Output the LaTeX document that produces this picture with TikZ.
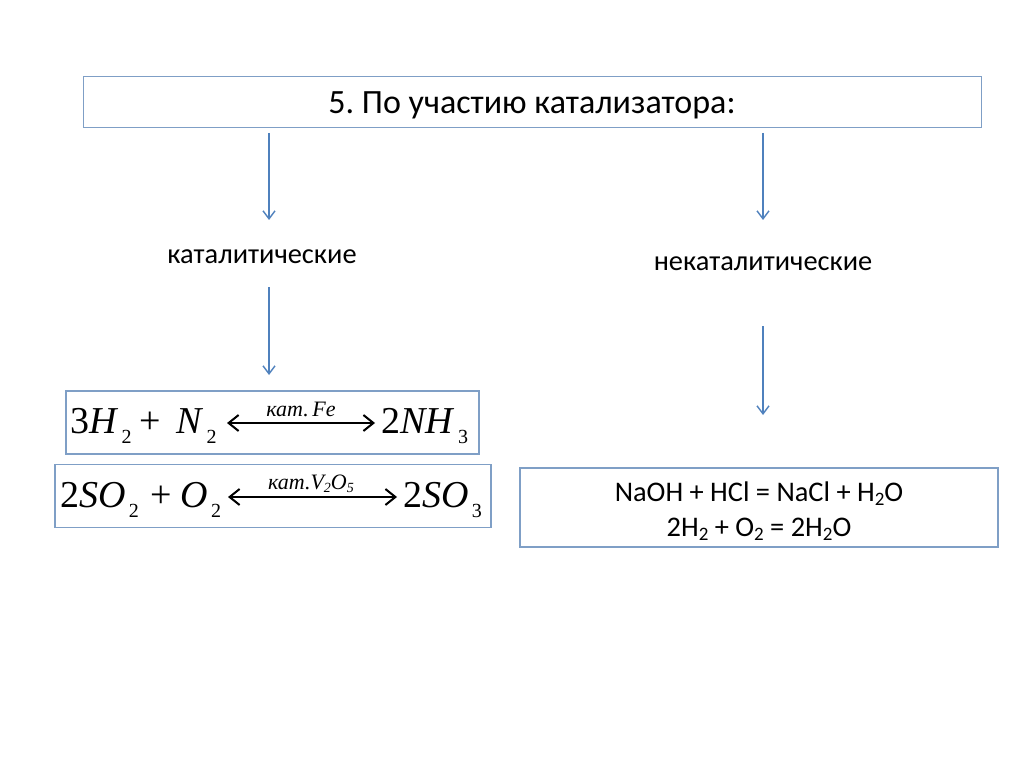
\documentclass[tikz,border=0pt]{standalone}
\usepackage{fontspec}
\setmainfont{Carlito}
\newfontfamily\chemfont{Liberation Serif}
\usetikzlibrary{arrows.meta}
\definecolor{boxblue}{HTML}{7F9FC6}
\definecolor{arrowblue}{HTML}{4F81BD}
\newcommand{\ital}[1]{\textit{#1}}
\newcommand{\lowsub}[1]{\raisebox{-10pt}{\fontsize{20}{20}\selectfont\,#1}}
\newcommand{\lowsubb}[1]{\raisebox{-3pt}{\fontsize{14}{14}\selectfont #1}}
\newcommand{\lowtext}[1]{\raisebox{-4pt}{\fontsize{19}{19}\selectfont #1}}
\tikzset{
  framebox/.style={draw=boxblue,line width=1.2pt,fill=white,inner sep=0pt},
  flowarrow/.style={draw=arrowblue,line width=1.4pt,-{Straight Barb[length=8pt,width=12pt,line width=1.4pt]}},
  eqarrow/.style={draw=black,line width=1.4pt,{Straight Barb[length=10pt,width=16pt,line width=2pt]}-{Straight Barb[length=10pt,width=16pt,line width=2pt]}},
  heading/.style={inner sep=0pt,font=\fontsize{34}{38}\selectfont},
  plainlabel/.style={inner sep=0pt,font=\fontsize{28.4}{32}\selectfont},
  chem/.style={inner sep=0pt,anchor=base west,font=\chemfont\fontsize{38}{40}\selectfont},
  cat/.style={inner sep=0pt,anchor=base,font=\chemfont\itshape\fontsize{22}{24}\selectfont},
  reaction/.style={inner sep=0pt,align=center,font=\fontsize{28.4}{35}\selectfont}
}
\begin{document}
\frenchspacing
\begin{tikzpicture}[x=1pt,y=-1pt]
\useasboundingbox (0,0) rectangle (1024,767);
\fill[white] (0,0) rectangle (1024,767);
% frames
\node[framebox,minimum width=898pt,minimum height=51pt] (title) at (532.5,102) {};
\node[framebox,minimum width=413pt,minimum height=63pt] (boxA) at (272.5,422.5) {};
\node[framebox,minimum width=436pt,minimum height=63pt] (boxB) at (273,496) {};
\node[framebox,minimum width=478pt,minimum height=79pt] (boxC) at (759,507.5) {};
% texts
\node[heading] (titletext) at (532,105) {\frenchspacing 5. По участию катализатора:};
\node[plainlabel] (catlabel) at (262,257) {каталитические};
\node[plainlabel] (noncatlabel) at (763,264) {некаталитические};
\node[reaction] (reactions) at (759,511) {NaOH + HCl = NaCl + H\lowtext{2}O\\2H\lowtext{2} + O\lowtext{2} = 2H\lowtext{2}O};
% equation 1
\node[chem] (a1) at (70,433) {3\ital{H}\lowsub{2}\hspace{8pt}+\hspace{15pt}\ital{N}\lowsub{2}};
\node[chem] (a2) at (381,433) {2\ital{NH}\lowsub{3}};
\coordinate (a1e) at (227,423);
\coordinate (a2e) at (375,423);
\draw[eqarrow] (a1e) -- (a2e);
\node[cat] (acat) at (301,416) {кат.\,Fe};
% equation 2
\node[chem] (b1) at (60,507) {2\ital{SO}\lowsub{2}\hspace{12pt}+\hspace{8pt}\ital{O}\lowsub{2}};
\node[chem] (b2) at (403,507) {2\ital{SO}\lowsub{3}};
\coordinate (b1e) at (228,497);
\coordinate (b2e) at (397,497);
\draw[eqarrow] (b1e) -- (b2e);
\node[cat] (bcat) at (311,489) {кат.V\lowsubb{2}O\lowsubb{5}};
% arrows
\coordinate (s1) at (269,133); \coordinate (e1) at (269,220);
\coordinate (s2) at (763,133); \coordinate (e2) at (763,220);
\coordinate (s3) at (269,287); \coordinate (e3) at (269,375);
\coordinate (s4) at (763,326); \coordinate (e4) at (763,415);
\draw[flowarrow] (s1) -- (e1);
\draw[flowarrow] (s2) -- (e2);
\draw[flowarrow] (s3) -- (e3);
\draw[flowarrow] (s4) -- (e4);
\end{tikzpicture}
\end{document}
